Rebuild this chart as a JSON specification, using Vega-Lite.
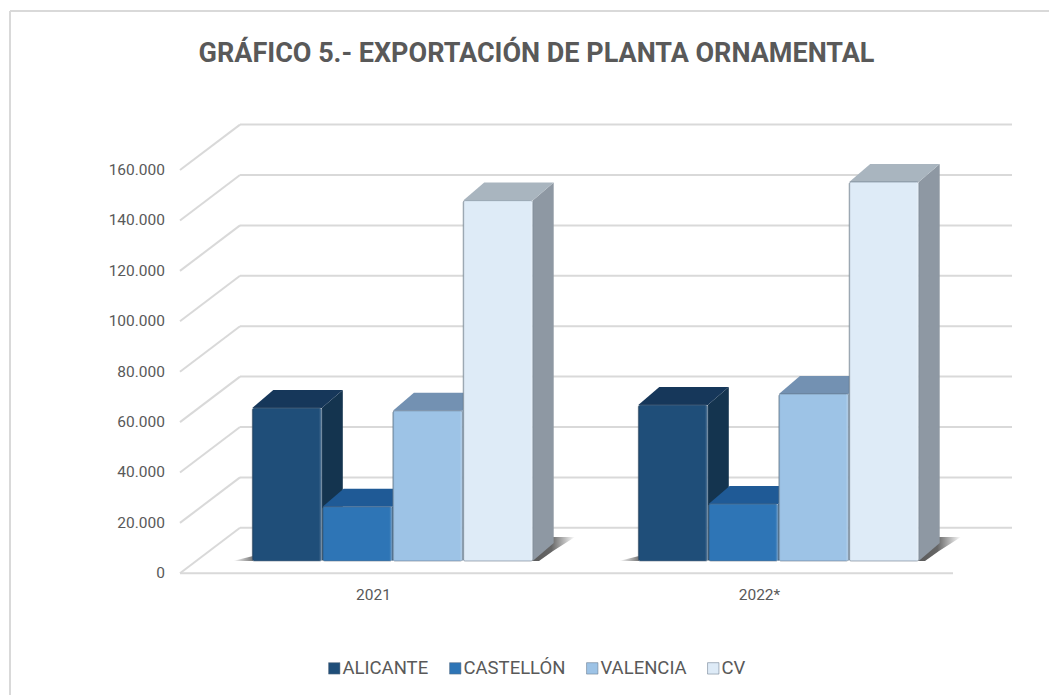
{
"$schema":"https://vega.github.io/schema/vega-lite/v6.json",
"width":1039,"height":684,
"autosize":{"type":"none"},
"padding":{"left":10,"top":11,"right":0,"bottom":0},
"background":"white",
"view":{"stroke":null},
"config":{"font":"Roboto"},
"title":{"text":"GRÁFICO 5.- EXPORTACIÓN DE PLANTA ORNAMENTAL","anchor":"middle","frame":"group","dx":7,"offset":-58,"fontSize":27,"fontWeight":"bold","color":"#595959","font":"Roboto"},
"datasets":{
"bars":[
{"year":"2021","region":"ALICANTE","value":60700},
{"year":"2021","region":"CASTELLÓN","value":21500},
{"year":"2021","region":"VALENCIA","value":59600},
{"year":"2021","region":"CV","value":143000},
{"year":"2022*","region":"ALICANTE","value":61900},
{"year":"2022*","region":"CASTELLÓN","value":22600},
{"year":"2022*","region":"VALENCIA","value":66300},
{"year":"2022*","region":"CV","value":150400}
],
"ticks":[{"tick":0},{"tick":20000},{"tick":40000},{"tick":60000},{"tick":80000},{"tick":100000},{"tick":120000},{"tick":140000},{"tick":160000}],
"years":[{"year":"2021"},{"year":"2022*"}]
},
"layer":[
{"data":{"values":[{"a":1}]},"mark":{"type":"rule","stroke":"#D9D9D9","strokeWidth":2},
 "encoding":{"x":{"datum":0,"type":"quantitative","scale":{"domain":[0,1039],"nice":false,"zero":false},"axis":null}}},
{"data":{"values":[{"a":1}]},"mark":{"type":"rule","stroke":"#D9D9D9","strokeWidth":2},
 "encoding":{"y":{"datum":223120,"type":"quantitative","scale":{"domain":[-48290,223120],"nice":false,"zero":false},"axis":null}}},
{"data":{"name":"ticks"},
 "transform":[{"calculate":"170","as":"xa"},{"calculate":"230","as":"xb"},{"calculate":"datum.tick+18050","as":"yb"}],
 "mark":{"type":"rule","stroke":"#D9D9D9","strokeWidth":2},
 "encoding":{"x":{"field":"xa","type":"quantitative","scale":{"domain":[0,1039],"nice":false,"zero":false},"axis":null},"x2":{"field":"xb"},
 "y":{"field":"tick","type":"quantitative","scale":{"domain":[-48290,223120],"nice":false,"zero":false},"axis":null},
 "y2":{"field":"yb"}}},
{"data":{"name":"ticks"},
 "transform":[{"calculate":"replace(format(datum.tick,','),',','.')","as":"lab"},{"calculate":"155","as":"lx"}],
 "mark":{"type":"text","font":"Roboto","fontSize":15.5,"color":"#595959","align":"right","baseline":"middle"},
 "encoding":{"x":{"field":"lx","type":"quantitative","axis":null},"y":{"field":"tick","type":"quantitative","axis":null},"text":{"field":"lab"}}},
{"data":{"name":"ticks"},
 "transform":[{"calculate":"230","as":"xa"},{"calculate":"1002","as":"xb"},{"calculate":"datum.tick+18050","as":"yb"}],
 "mark":{"type":"rule","stroke":"#D9D9D9","strokeWidth":2},
 "encoding":{"x":{"field":"xa","type":"quantitative","axis":null},"x2":{"field":"xb"},"y":{"field":"yb","type":"quantitative","axis":null}}},
{"data":{"name":"ticks"},
 "transform":[{"filter":"datum.tick==0"},{"calculate":"170","as":"xa"},{"calculate":"943","as":"xb"}],
 "mark":{"type":"rule","stroke":"#D9D9D9","strokeWidth":2},
 "encoding":{"x":{"field":"xa","type":"quantitative","axis":null},"x2":{"field":"xb"},"y":{"field":"tick","type":"quantitative","axis":null}}},
{"data":{"name":"years"},
 "transform":[
  {"calculate":"datum.year=='2021'?0:1","as":"g"},
  {"calculate":"[522,529,543,565]","as":"ox"},
  {"calculate":"[0,14,24,24]","as":"ou"},
  {"calculate":"[0,0,10,24]","as":"ol"},
  {"flatten":["ox","ou","ol"]},
  {"calculate":"datum.ox+386*datum.g","as":"sx"},
  {"calculate":"4880+datum.ou*396.8","as":"su"},
  {"calculate":"4880+datum.ol*396.8","as":"sl"}
 ],
 "mark":{"type":"area","fill":{"gradient":"linear","x1":0,"y1":0,"x2":1,"y2":0,"stops":[{"offset":0,"color":"#5a5a5a"},{"offset":0.45,"color":"#666666"},{"offset":1,"color":"#ffffff"}]}},
 "encoding":{"x":{"field":"sx","type":"quantitative","axis":null},"y":{"field":"su","type":"quantitative","axis":null,"stack":null},"y2":{"field":"sl"},"detail":{"field":"year"}}},
{"data":{"name":"years"},
 "transform":[
  {"calculate":"datum.year=='2021'?0:1","as":"g"},
  {"calculate":"[223,243]","as":"ox"},
  {"calculate":"[0,5]","as":"ou"},
  {"flatten":["ox","ou"]},
  {"calculate":"datum.ox+386*datum.g","as":"sx"},
  {"calculate":"4880+datum.ou*396.8","as":"su"},
  {"calculate":"4880","as":"sl"}
 ],
 "mark":{"type":"area","fill":{"gradient":"linear","x1":0,"y1":0,"x2":1,"y2":0,"stops":[{"offset":0,"color":"#ffffff"},{"offset":1,"color":"#777777"}]}},
 "encoding":{"x":{"field":"sx","type":"quantitative","axis":null},"y":{"field":"su","type":"quantitative","axis":null,"stack":null},"y2":{"field":"sl"},"detail":{"field":"year"}}},
{"data":{"name":"bars"},
 "transform":[
  {"calculate":"datum.year=='2021'?0:1","as":"g"},
  {"calculate":"indexof(['ALICANTE','CASTELLÓN','VALENCIA','CV'],datum.region)","as":"s"},
  {"calculate":"242.3+386*datum.g+70.3*datum.s","as":"xl"},
  {"calculate":"datum.xl+69.5","as":"xr"},
  {"calculate":"4880+datum.value","as":"t"},
  {"calculate":"[datum.xr,datum.xr+21]","as":"px"},
  {"calculate":"[datum.t,datum.t+7140]","as":"pu"},
  {"calculate":"[4880,4880+7140]","as":"pl"},
  {"flatten":["px","pu","pl"]}
 ],
 "mark":{"type":"area"},
 "encoding":{"x":{"field":"px","type":"quantitative","axis":null},"y":{"field":"pu","type":"quantitative","axis":null,"stack":null},"y2":{"field":"pl"},
 "detail":[{"field":"year"},{"field":"region"}],
 "fill":{"field":"region","type":"nominal","legend":null,"scale":{"domain":["ALICANTE","CASTELLÓN","VALENCIA","CV"],"range":["#14344F","#1F5488","#6F8FAE","#8E98A3"]}}}},
{"data":{"name":"bars"},
 "transform":[
  {"calculate":"datum.year=='2021'?0:1","as":"g"},
  {"calculate":"indexof(['ALICANTE','CASTELLÓN','VALENCIA','CV'],datum.region)","as":"s"},
  {"calculate":"242.3+386*datum.g+70.3*datum.s","as":"xl"},
  {"calculate":"datum.xl+69.5","as":"xr"},
  {"calculate":"4880+datum.value","as":"t"},
  {"calculate":"[datum.xl,datum.xl+21,datum.xr,datum.xr+21]","as":"px"},
  {"calculate":"[datum.t,datum.t+7140,datum.t+7140,datum.t+7140]","as":"pu"},
  {"calculate":"[datum.t,datum.t,datum.t,datum.t+7140]","as":"pl"},
  {"flatten":["px","pu","pl"]}
 ],
 "mark":{"type":"area"},
 "encoding":{"x":{"field":"px","type":"quantitative","axis":null},"y":{"field":"pu","type":"quantitative","axis":null,"stack":null},"y2":{"field":"pl"},
 "detail":[{"field":"year"},{"field":"region"}],
 "fill":{"field":"region","type":"nominal","legend":null,"scale":{"domain":["ALICANTE","CASTELLÓN","VALENCIA","CV"],"range":["#16375A","#1F5A96","#7391B2","#A9B5BF"]}}}},
{"data":{"name":"bars"},
 "transform":[
  {"calculate":"datum.year=='2021'?0:1","as":"g"},
  {"calculate":"indexof(['ALICANTE','CASTELLÓN','VALENCIA','CV'],datum.region)","as":"s"},
  {"calculate":"242.3+386*datum.g+70.3*datum.s","as":"xl"},
  {"calculate":"datum.xl+69.5","as":"xr"},
  {"calculate":"4880","as":"b"},
  {"calculate":"4880+datum.value","as":"t"}
 ],
 "mark":{"type":"rect","cornerRadius":2,"stroke":"#5F6F80","strokeWidth":1,"strokeOpacity":0.55},
 "encoding":{"x":{"field":"xl","type":"quantitative","axis":null},"x2":{"field":"xr"},"y":{"field":"t","type":"quantitative","axis":null},"y2":{"field":"b"},
 "fill":{"field":"region","type":"nominal","title":null,
  "scale":{"domain":["ALICANTE","CASTELLÓN","VALENCIA","CV"],"range":["#1F4E79","#2E75B6","#9DC3E6","#DEEBF7"]},
  "legend":{"orient":"none","legendX":315,"legendY":648,"direction":"horizontal","columns":4,"symbolType":"square","symbolSize":130,"symbolStrokeWidth":0.5,"labelFont":"Roboto","labelFontSize":18.5,"labelColor":"#595959","labelOffset":-1,"columnPadding":17,"padding":0}}}},
{"data":{"name":"bars"},
 "transform":[
  {"calculate":"datum.year=='2021'?0:1","as":"g"},
  {"calculate":"indexof(['ALICANTE','CASTELLÓN','VALENCIA','CV'],datum.region)","as":"s"},
  {"calculate":"242.3+386*datum.g+70.3*datum.s","as":"xl"},
  {"calculate":"datum.xl+69.5","as":"xr"},
  {"calculate":"4880","as":"b"},
  {"calculate":"4880+datum.value","as":"t"}
 ],
 "mark":{"type":"rect","cornerRadius":2,"fill":{"gradient":"linear","x1":0,"y1":0,"x2":1,"y2":0,"stops":[{"offset":0,"color":"rgba(0,0,0,0.18)"},{"offset":0.025,"color":"rgba(0,0,0,0)"},{"offset":0.96,"color":"rgba(255,255,255,0)"},{"offset":1,"color":"rgba(255,255,255,0.3)"}]}},
 "encoding":{"x":{"field":"xl","type":"quantitative","axis":null},"x2":{"field":"xr"},"y":{"field":"t","type":"quantitative","axis":null},"y2":{"field":"b"}}},
{"data":{"name":"years"},
 "transform":[{"calculate":"datum.year=='2021'?0:1","as":"g"},{"calculate":"363.5+386*datum.g","as":"lx"}],
 "mark":{"type":"text","font":"Roboto","fontSize":15.5,"color":"#595959","align":"center","baseline":"middle"},
 "encoding":{"x":{"field":"lx","type":"quantitative","axis":null},"y":{"datum":-8700,"type":"quantitative","axis":null},"text":{"field":"year"}}}
],
"resolve":{"scale":{"fill":"independent"}}
}
